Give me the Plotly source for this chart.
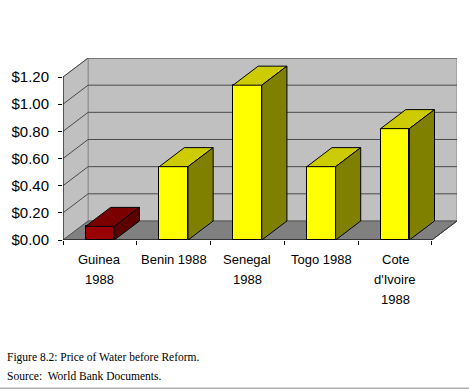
import plotly.graph_objects as go

categories = ["Guinea<br>1988", "Benin 1988", "Senegal<br>1988", "Togo 1988", "Cote<br>d'Ivoire<br>1988"]
prices = [0.10, 0.54, 1.14, 0.54, 0.82]
front_colors = ["#990000", "#FFFF00", "#FFFF00", "#FFFF00", "#FFFF00"]
top_colors = ["#7A0000", "#CCCC00", "#CCCC00", "#CCCC00", "#CCCC00"]
side_colors = ["#5C0000", "#808000", "#808000", "#808000", "#808000"]
y_ticks = [0, 0.2, 0.4, 0.6, 0.8, 1.0, 1.2]

# 3D projection offsets (in axis units)
DX = 0.34
DY = 0.14
W = 0.39
n = len(categories)
x0, x1 = -0.5, n - 0.5
ymax = y_ticks[-1]

fig = go.Figure()

shapes = []
# back wall
shapes.append(dict(type="rect", xref="x", yref="y", x0=x0 + DX, x1=x1 + DX, y0=DY, y1=ymax + DY,
                   fillcolor="#C0C0C0", line=dict(color="#8C8C8C", width=1), layer="below"))
# side wall
shapes.append(dict(type="path", xref="x", yref="y",
                   path=f"M{x0},0 L{x0+DX},{DY} L{x0+DX},{ymax+DY} L{x0},{ymax} Z",
                   fillcolor="#C0C0C0", line=dict(color="#8C8C8C", width=1), layer="below"))
# floor
shapes.append(dict(type="path", xref="x", yref="y",
                   path=f"M{x0},0 L{x1},0 L{x1+DX},{DY} L{x0+DX},{DY} Z",
                   fillcolor="#808080", line=dict(color="#555555", width=1), layer="below"))
# gridlines
for v in y_ticks[1:]:
    shapes.append(dict(type="line", xref="x", yref="y", x0=x0 + DX, x1=x1 + DX, y0=v + DY, y1=v + DY,
                       line=dict(color="#4A4A4A", width=1), layer="below"))
    shapes.append(dict(type="line", xref="x", yref="y", x0=x0, x1=x0 + DX, y0=v, y1=v + DY,
                       line=dict(color="#4A4A4A", width=1), layer="below"))
# front axis lines
shapes.append(dict(type="line", xref="x", yref="y", x0=x0, x1=x0, y0=0, y1=ymax,
                   line=dict(color="black", width=1)))
shapes.append(dict(type="line", xref="x", yref="y", x0=x0, x1=x1, y0=0, y1=0,
                   line=dict(color="black", width=1)))
shapes.append(dict(type="line", xref="x", yref="y", x0=x1, x1=x1 + DX, y0=0, y1=DY,
                   line=dict(color="#333333", width=1)))
# caption separator
shapes.append(dict(type="line", xref="paper", yref="paper", x0=-0.2, x1=1.1, y0=-0.815, y1=-0.815,
                   line=dict(color="#B0B0B0", width=1.5)))

# front faces
fig.add_trace(go.Bar(x=list(range(n)), y=prices, width=W,
                     marker=dict(color=front_colors, line=dict(color="black", width=1)),
                     hoverinfo="skip", showlegend=False))

# tops and sides
for i, v in enumerate(prices):
    l, r = i - W / 2, i + W / 2
    fig.add_trace(go.Scatter(x=[l, l + DX, r + DX, r, l], y=[v, v + DY, v + DY, v, v],
                             mode="lines", fill="toself", fillcolor=top_colors[i],
                             line=dict(color="black", width=1), hoverinfo="skip", showlegend=False))
    fig.add_trace(go.Scatter(x=[r, r + DX, r + DX, r, r], y=[v, v + DY, DY, 0, v],
                             mode="lines", fill="toself", fillcolor=side_colors[i],
                             line=dict(color="black", width=1), hoverinfo="skip", showlegend=False))

annotations = []
for i, c in enumerate(categories):
    for k, line in enumerate(c.split("<br>")):
        annotations.append(dict(x=i, y=0, xref="x", yref="y", text=line, showarrow=False,
                                yanchor="middle", xanchor="center", yshift=-19 - 20 * k,
                                font=dict(family="Liberation Sans, Arial", size=13, color="black")))
annotations.append(dict(x=-0.147, y=-0.648, xref="paper", yref="paper", xanchor="left", yanchor="middle",
                        text="Figure 8.2: Price of Water before Reform.", showarrow=False,
                        font=dict(family="Liberation Serif, Times New Roman", size=11.5, color="black")))
annotations.append(dict(x=-0.147, y=-0.747, xref="paper", yref="paper", xanchor="left", yanchor="middle",
                        text="Source:  World Bank Documents.", showarrow=False,
                        font=dict(family="Liberation Serif, Times New Roman", size=11.5, color="black")))

fig.update_layout(
    width=469, height=391,
    margin=dict(l=63, r=12, t=58, b=151),
    paper_bgcolor="white", plot_bgcolor="white",
    shapes=shapes, annotations=annotations,
    xaxis=dict(range=[x0, x1 + DX], tickvals=[x0 + k for k in range(n + 1)], ticktext=[""] * (n + 1),
               ticks="outside", ticklen=4, tickcolor="black", showgrid=False, zeroline=False, showline=False,
               fixedrange=True),
    yaxis=dict(range=[0, ymax + DY], tickvals=y_ticks, tickformat="$.2f", ticks="outside", ticklen=4,
               tickcolor="black", showgrid=False, zeroline=False, showline=False, ticklabelstandoff=6,
               tickfont=dict(family="Liberation Sans, Arial", size=15, color="black"), fixedrange=True),
    bargap=0,
)

# remove the browser's default page margin so the figure sits at the window origin
fig.write_html("out.html", config={"displayModeBar": False},
               post_script="document.body.style.margin='0';document.body.style.overflow='hidden';")
